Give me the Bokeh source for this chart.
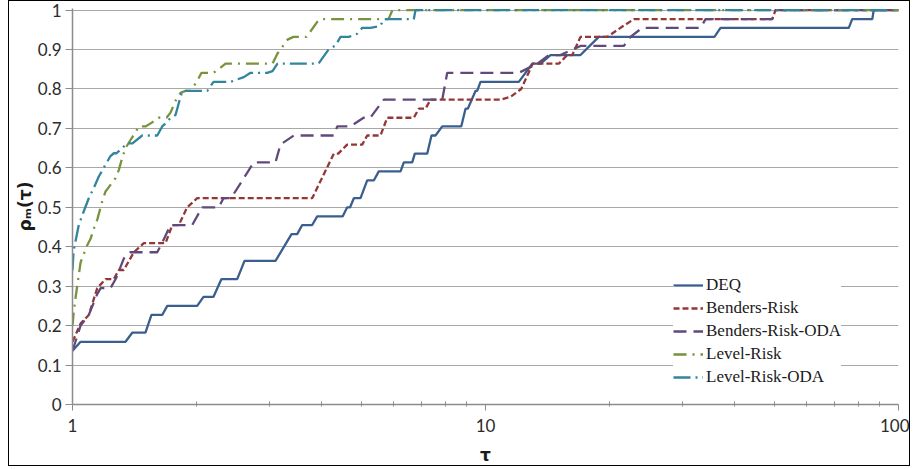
from bokeh.plotting import figure
from bokeh.models import Range1d, FixedTicker, BasicTickFormatter, Legend, LegendItem
from bokeh.embed import file_html
from bokeh.resources import INLINE

# (tau, rho) vertices of each performance-profile curve
deq = [(1.0, 0.136), (1.046, 0.159), (1.344, 0.159), (1.395, 0.182), (1.502, 0.182),
       (1.553, 0.227), (1.649, 0.227), (1.696, 0.25), (2.004, 0.25), (2.076, 0.273),
       (2.195, 0.273), (2.295, 0.318), (2.505, 0.318), (2.609, 0.364), (3.101, 0.364),
       (3.391, 0.432), (3.50, 0.432), (3.599, 0.455), (3.805, 0.455), (3.913, 0.477),
       (4.512, 0.477), (4.625, 0.5), (4.70, 0.5), (4.80, 0.523), (4.982, 0.523),
       (5.171, 0.568), (5.364, 0.568), (5.516, 0.591), (6.227, 0.591), (6.343, 0.614),
       (6.646, 0.614), (6.743, 0.636), (7.225, 0.636), (7.40, 0.682), (7.567, 0.682),
       (7.857, 0.705), (8.735, 0.705), (8.946, 0.75), (9.06, 0.75), (9.458, 0.795),
       (9.548, 0.795), (9.725, 0.818), (12.04, 0.818), (12.98, 0.864), (13.59, 0.864),
       (14.37, 0.886), (16.98, 0.886), (18.81, 0.932), (35.84, 0.932), (37.07, 0.955),
       (75.8, 0.955), (77.25, 0.977), (86.4, 0.977), (87.1, 1.0), (100, 1.0)]

benders_risk = [(1.0, 0.159), (1.046, 0.205), (1.095, 0.227), (1.148, 0.295), (1.202, 0.318),
                (1.259, 0.318), (1.295, 0.341), (1.331, 0.341), (1.408, 0.386), (1.488, 0.409),
                (1.680, 0.409), (1.744, 0.455), (1.809, 0.455), (1.895, 0.5), (2.004, 0.523),
                (3.805, 0.523), (4.293, 0.636), (4.40, 0.636), (4.625, 0.659), (5.030, 0.659),
                (5.171, 0.682), (5.568, 0.682), (5.781, 0.727), (6.706, 0.727), (6.896, 0.75),
                (7.157, 0.75), (7.360, 0.773), (10.87, 0.773), (11.5, 0.78), (12.2, 0.80),
                (12.7, 0.84), (13.0, 0.864), (15.05, 0.864), (15.77, 0.886), (16.22, 0.886),
                (16.98, 0.932), (19.71, 0.932), (21.23, 0.955), (22.87, 0.977), (49.45, 0.977),
                (50.37, 1.0), (100, 1.0)]

benders_risk_oda = [(1.0, 0.136), (1.046, 0.20), (1.095, 0.227), (1.148, 0.28), (1.170, 0.295),
                    (1.236, 0.295), (1.275, 0.32), (1.331, 0.37), (1.38, 0.386), (1.604, 0.386),
                    (1.649, 0.41), (1.727, 0.455), (1.949, 0.455), (2.061, 0.5), (2.261, 0.5),
                    (2.32, 0.523), (2.42, 0.523), (2.748, 0.614), (3.101, 0.614), (3.188, 0.659),
                    (3.434, 0.682), (4.293, 0.682), (4.376, 0.705), (4.711, 0.705), (5.067, 0.727),
                    (5.26, 0.727), (5.674, 0.773), (7.857, 0.773), (8.078, 0.841), (12.04, 0.841),
                    (13.35, 0.864), (14.23, 0.886), (15.19, 0.886), (16.98, 0.909), (21.62, 0.909),
                    (22.44, 0.932), (23.96, 0.955), (33.16, 0.955), (34.10, 0.977), (49.45, 0.977),
                    (50.37, 1.0), (100, 1.0)]

level_risk = [(1.0, 0.20), (1.006, 0.23), (1.017, 0.27), (1.046, 0.36), (1.081, 0.40),
              (1.106, 0.42), (1.130, 0.45), (1.149, 0.47), (1.180, 0.515), (1.202, 0.54),
              (1.222, 0.55), (1.271, 0.574), (1.295, 0.595), (1.319, 0.625), (1.344, 0.65),
              (1.39, 0.675), (1.421, 0.69), (1.447, 0.705), (1.502, 0.705), (1.553, 0.714),
              (1.615, 0.727), (1.689, 0.727), (1.727, 0.74), (1.776, 0.77), (1.826, 0.79),
              (1.878, 0.795), (1.931, 0.795), (2.004, 0.82), (2.053, 0.841), (2.195, 0.841),
              (2.257, 0.85), (2.347, 0.864), (3.050, 0.864), (3.136, 0.89), (3.188, 0.90),
              (3.316, 0.925), (3.428, 0.932), (3.687, 0.932), (3.913, 0.97), (3.985, 0.977),
              (5.822, 0.977), (5.954, 1.0), (100, 1.0)]

level_risk_oda = [(1.0, 0.34), (1.006, 0.39), (1.017, 0.414), (1.036, 0.456), (1.065, 0.49),
                  (1.095, 0.523), (1.126, 0.549), (1.158, 0.578), (1.202, 0.608), (1.236, 0.63),
                  (1.259, 0.637), (1.278, 0.637), (1.319, 0.65), (1.357, 0.662), (1.397, 0.662),
                  (1.475, 0.682), (1.604, 0.682), (1.649, 0.705), (1.696, 0.717), (1.727, 0.727),
                  (1.776, 0.734), (1.826, 0.78), (1.847, 0.795), (2.120, 0.795), (2.195, 0.818),
                  (2.413, 0.818), (2.599, 0.83), (2.698, 0.841), (2.961, 0.841), (3.050, 0.845),
                  (3.136, 0.864), (3.941, 0.864), (4.168, 0.90), (4.334, 0.91), (4.456, 0.932),
                  (4.667, 0.932), (4.890, 0.94), (5.030, 0.955), (5.267, 0.955), (5.568, 0.96),
                  (5.672, 0.977), (6.706, 0.977), (6.769, 1.0), (100, 1.0)]

series_names = ["DEQ", "Benders-Risk", "Benders-Risk-ODA", "Level-Risk", "Level-Risk-ODA"]
y_ticks = [0, 0.1, 0.2, 0.3, 0.4, 0.5, 0.6, 0.7, 0.8, 0.9, 1.0]
x_ticks = [1, 10, 100]
x_minor = [2, 3, 4, 5, 6, 7, 8, 9, 20, 30, 40, 50, 60, 70, 80, 90]

styles = [
    dict(color="#3A5F8E", dash="solid"),
    dict(color="#953735", dash="6 3"),
    dict(color="#604A7B", dash="13 7"),
    dict(color="#77933C", dash="13 6 2 6"),
    dict(color="#31859C", dash="17 5 2 5"),
]

p = figure(width=902, height=466, x_axis_type="log",
           x_range=Range1d(1, 100), y_range=Range1d(0, 1.004),
           output_backend="svg", toolbar_location=None,
           min_border_left=63, min_border_right=13, min_border_top=7, min_border_bottom=63)
p.styles = {"border": "1px solid #000000", "margin-left": "8px"}
p.outline_line_color = None
p.background_fill_color = "white"

renderers = []
for data, st in zip([deq, benders_risk, benders_risk_oda, level_risk, level_risk_oda], styles):
    xs = [d[0] for d in data]
    ys = [d[1] for d in data]
    r = p.line(xs, ys, line_color=st["color"], line_width=2.3, line_dash=st["dash"])
    renderers.append(r)

# axes
tick_font = "Lato"
tick_color = "#2B2B2B"
p.xaxis.ticker = FixedTicker(ticks=x_ticks, minor_ticks=x_minor)
p.xaxis.formatter = BasicTickFormatter(use_scientific=False)
p.yaxis.ticker = FixedTicker(ticks=y_ticks)
p.yaxis.major_label_overrides = {0: "0", 1: "1"}
p.ygrid.ticker = FixedTicker(ticks=y_ticks)
p.xgrid.visible = False
p.ygrid.grid_line_color = "#A8A8A8"
p.ygrid.grid_line_width = 1.2

for ax in (p.xaxis[0], p.yaxis[0]):
    ax.axis_line_color = "#8C8C8C"
    ax.axis_line_width = 1.5
    ax.major_tick_line_color = "#8C8C8C"
    ax.minor_tick_line_color = "#8C8C8C"
    ax.major_label_text_font = tick_font
    ax.major_label_text_font_size = "17px"
    ax.major_label_text_color = tick_color
    ax.axis_label_text_font = "DejaVu Sans"
    ax.axis_label_text_font_style = "bold"
    ax.axis_label_text_color = "#1A1A1A"

p.xaxis.major_tick_in = 0
p.xaxis.major_tick_out = 6
p.xaxis.minor_tick_in = 3
p.xaxis.minor_tick_out = 2
p.xaxis.major_label_standoff = 8
p.xaxis.axis_label = "τ"
p.xaxis.axis_label_text_font_size = "17px"
p.xaxis.axis_label_standoff = 10

p.yaxis.major_tick_in = 0
p.yaxis.major_tick_out = 7
p.yaxis.minor_tick_line_color = None
p.yaxis.major_label_standoff = 4
p.yaxis.axis_label = "ρₘ(τ)"
p.yaxis.axis_label_text_font_size = "17px"
p.yaxis.axis_label_standoff = 0

legend = Legend(
    items=[LegendItem(label=n, renderers=[r]) for n, r in zip(series_names, renderers)],
    location=(601, 17),
    label_text_font="Liberation Serif", label_text_font_size="17px", label_text_color="#1A1A1A",
    glyph_width=30, glyph_height=20, label_height=20, spacing=3, padding=6, margin=0,
    label_standoff=3, border_line_color=None, background_fill_color="white",
    background_fill_alpha=1.0,
)
p.add_layout(legend)

open("out.html", "w").write(file_html(p, INLINE))
